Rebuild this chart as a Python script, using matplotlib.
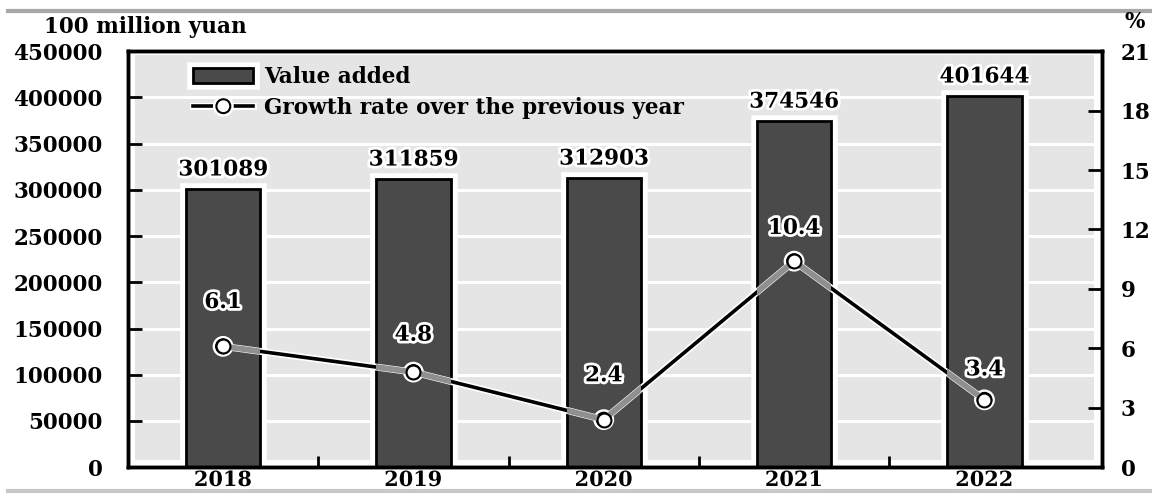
import matplotlib
matplotlib.use("Agg")
import matplotlib.pyplot as plt
import matplotlib.patheffects as pe
from matplotlib.patches import Rectangle
from matplotlib.lines import Line2D
import numpy as np

# data
years = ["2018", "2019", "2020", "2021", "2022"]
value_added = [301089, 311859, 312903, 374546, 401644]   # 100 million yuan
growth_rate = [6.1, 4.8, 2.4, 10.4, 3.4]                  # %
left_ticks = [0, 50000, 100000, 150000, 200000, 250000, 300000, 350000, 400000, 450000]
right_ticks = [0, 3, 6, 9, 12, 15, 18, 21]

# label offsets above the markers (points)
rate_label_offsets = [24, 19, 24, 16, 14]

plt.rcParams["font.family"] = ["DejaVu Serif"]
plt.rcParams["font.weight"] = "bold"

FS = 15.5
halo = [pe.withStroke(linewidth=4, foreground="white")]

fig = plt.figure(figsize=(11.52, 4.97), dpi=100)
ax = fig.add_axes([0.111, 0.06, 0.846, 0.837])
ax2 = ax.twinx()

x = np.arange(len(years))
ax.set_xlim(-0.5, len(years) - 0.38)
ax.set_ylim(0, 450000)
ax2.set_ylim(0, 21)

# grey panel with white grid lines
ax.add_patch(Rectangle((0.007, 0.017), 0.984, 0.973, transform=ax.transAxes,
                       facecolor="#e5e5e5", edgecolor="none", zorder=0))
for t in left_ticks[1:-1]:
    ax.axhline(t, color="white", lw=2.2, zorder=0.5)

bars = ax.bar(x, value_added, width=0.39, color="#4a4a4a", edgecolor="black",
              linewidth=2, zorder=2, label="Value added")
for b in bars:
    b.set_path_effects([pe.Stroke(linewidth=9, foreground="white"), pe.Normal()])

for xi, v in zip(x, value_added):
    ax.annotate(f"{v}", (xi, v), xytext=(0, 6), textcoords="offset points",
                ha="center", va="bottom", fontsize=FS, fontweight="bold",
                path_effects=halo, zorder=5)

# growth line: black outside the bars, grey where it crosses them
line, = ax2.plot(x, growth_rate, color="black", lw=2.6, marker="o", ms=10,
                 mfc="white", mec="black", mew=1.5, zorder=3,
                 label="Growth rate over the previous year")
line.set_path_effects([pe.Stroke(linewidth=5, foreground="white"), pe.Normal()])
for b in bars:
    g, = ax2.plot(x, growth_rate, color="#8f8f8f", lw=4.2, zorder=3.5)
    g.set_clip_path(b)
ax2.plot(x, growth_rate, ls="none", marker="o", ms=10, mfc="white",
         mec="black", mew=1.5, zorder=4)

for xi, g, off in zip(x, growth_rate, rate_label_offsets):
    ax2.annotate(f"{g}", (xi, g), xytext=(0, off), textcoords="offset points",
                 ha="center", va="bottom", fontsize=FS, fontweight="bold",
                 path_effects=halo, zorder=5)

# axes styling
ax.set_xticks(x, labels=years)
ax.set_xticks(x[:-1] + 0.5, minor=True)
ax.tick_params(axis="x", which="major", length=0, pad=2, labelsize=FS - 0.5)
ax.tick_params(axis="x", which="minor", direction="in", length=8, width=2)
ax.set_yticks(left_ticks)
ax.tick_params(axis="y", direction="in", length=10, width=2, pad=18, labelsize=FS)
ax2.set_yticks(right_ticks)
ax2.tick_params(axis="y", direction="in", length=10, width=2, pad=13, labelsize=FS)
for a in (ax, ax2):
    for s in a.spines.values():
        s.set_linewidth(2.5)
ax.set_zorder(ax2.get_zorder() - 1)
ax2.patch.set_visible(False)

for lab in ax.get_xticklabels():
    lab.set_path_effects(halo)
    lab.set_zorder(6)

# legend
handles = [bars, line]
leg = ax2.legend(handles, [h.get_label() for h in handles], loc="upper left",
                 bbox_to_anchor=(0.056, 0.99), frameon=False, fontsize=FS,
                 borderpad=0, handlelength=2.8, handletextpad=0.5,
                 labelspacing=0.4, numpoints=1)

fig.text(0.126, 0.945, "100 million yuan", ha="center", va="center",
         fontsize=FS, fontweight="bold")
fig.text(0.985, 0.955, "%", ha="center", va="center", fontsize=FS, fontweight="bold")

# page frame lines
fig.add_artist(Line2D([0.007, 1], [0.977, 0.977], transform=fig.transFigure,
                      color="#a8a8a8", lw=3, zorder=-1))
fig.add_artist(Line2D([0.007, 1], [0.012, 0.012], transform=fig.transFigure,
                      color="#c8c8c8", lw=3, zorder=-1))

fig.savefig("out.png", dpi=100)
